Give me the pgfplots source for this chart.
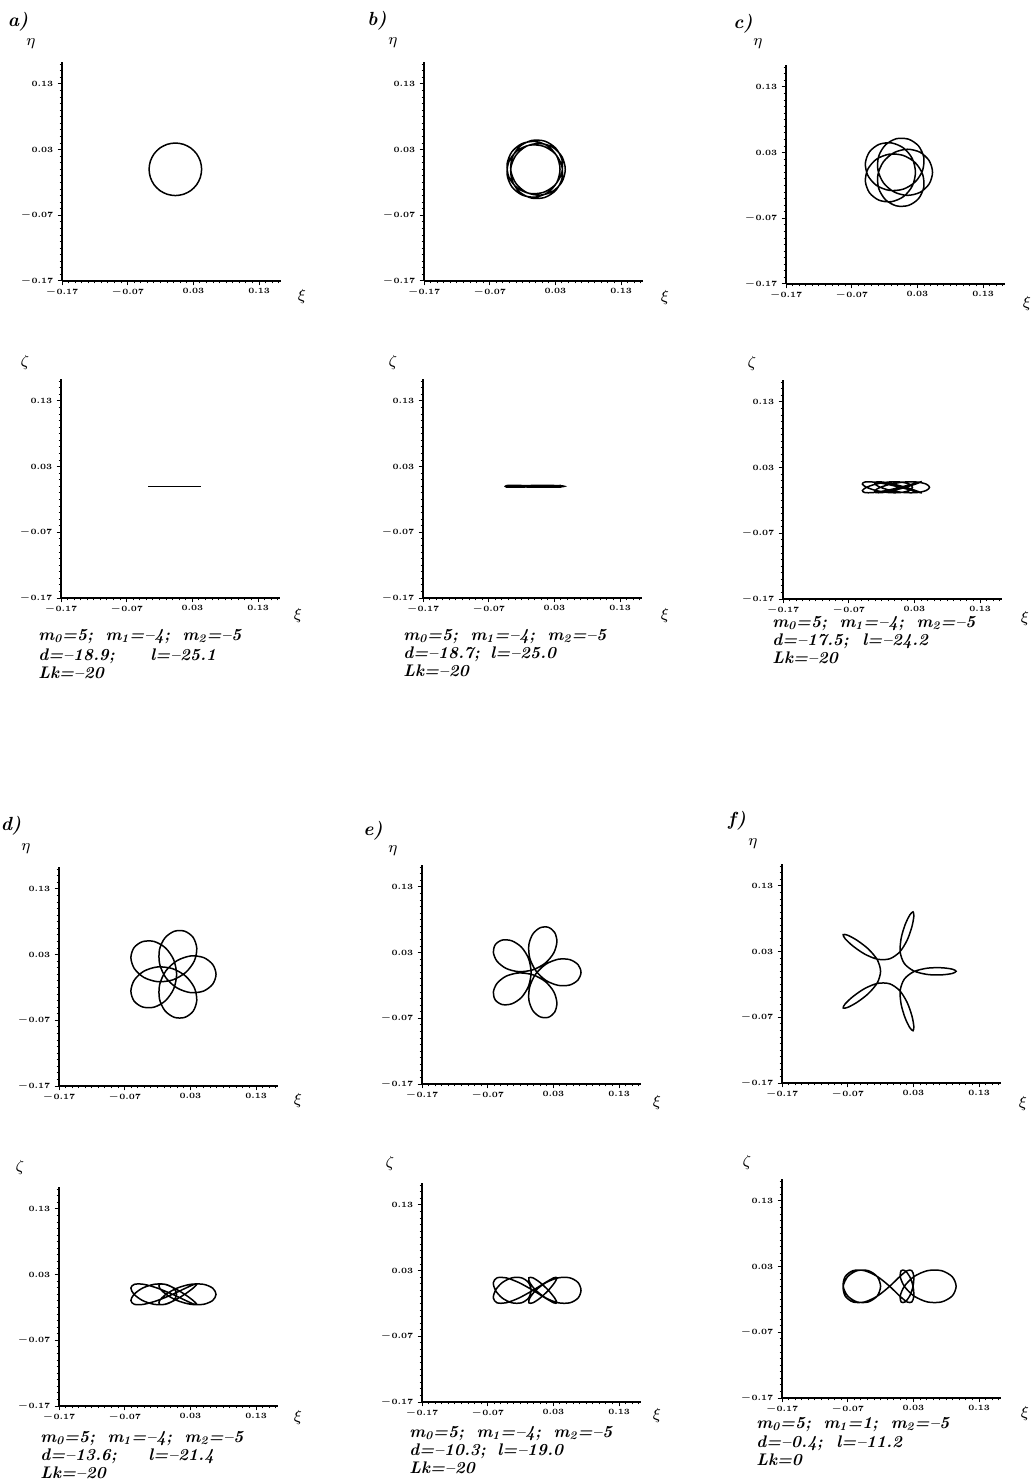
\documentclass[border=0pt]{standalone}
\usepackage{pgfplots}
\pgfplotsset{compat=1.18}
\newcommand\capfont{\fontsize{8.4}{9}\selectfont\bfseries\itshape}
\newcommand\letfont{\fontsize{9.5}{10}\selectfont\bfseries\itshape}
\newcommand\varfont{\fontsize{8.5}{9}\selectfont}
\newcommand\sep{\hspace{0.75em}}
\pgfplotsset{
  panel/.style={
    anchor=south west, scale only axis, width=109.5pt, height=109.5pt,
    xmin=-0.17, xmax=0.1633, ymin=-0.17, ymax=0.1633,
    axis lines=left, axis line style={-, line width=0.9pt},
    xtick={-0.17,-0.07,0.03,0.13}, ytick={-0.17,-0.07,0.03,0.13},
    xticklabels={$-$0.17,$-$0.07,0.03,0.13},
    yticklabels={$-$0.17,$-$0.07,0.03,0.13},
    minor xtick={-0.16,-0.15,...,0.161}, minor ytick={-0.16,-0.15,...,0.161},
    tick align=outside, major tick length=2.2pt, minor tick length=1.2pt,
    tick style={black, line width=0.5pt},
    ticklabel style={font=\fontsize{4}{4.5}\selectfont\bfseries, inner sep=1pt},
    yticklabel style={xshift=-1pt},
    clip=false,
  },
  curve/.style={black, line width=0.75pt, smooth cycle, no markers},
}
\begin{document}
\begin{tikzpicture}
\path[use as bounding box] (0pt,0pt) rectangle (515pt,-740.5pt);

% ---------------- a) top view
\begin{axis}[panel, at={(31pt,-140.5pt)}]
\addplot[curve] coordinates {(0.0425,0) (0.0405,0.0124) (0.0349,0.0235) (0.026,0.0324) (0.0149,0.038) (0.0025,0.04) (-0.0099,0.038) (-0.021,0.0324) (-0.0299,0.0235) (-0.0355,0.0124) (-0.0375,0) (-0.0355,-0.0124) (-0.0299,-0.0235) (-0.021,-0.0324) (-0.0099,-0.038) (0.0025,-0.04) (0.0149,-0.038) (0.026,-0.0324) (0.0349,-0.0235) (0.0405,-0.0124)};
\end{axis}
% ---------------- a) side view
\begin{axis}[panel, at={(30.5pt,-299pt)}]
\addplot[black, line width=0.75pt, no markers] coordinates {(-0.0375,0) (0.0425,0)};
\end{axis}

% ---------------- b) top view
\begin{axis}[panel, at={(212pt,-140.5pt)}]
\addplot[curve] coordinates {(0.0450,0) (0.0399,-0.0193) (0.0258,-0.0336) (0.0063,-0.0394) (-0.0140,-0.0352) (-0.0299,-0.0217) (-0.0378,-0.0024) (-0.0356,0.0182) (-0.0240,0.0350) (-0.0060,0.0439) (0.0139,0.0428) (0.0306,0.0320) (0.0400,0.0142) (0.0395,-0.0062) (0.0291,-0.0241) (0.0114,-0.0352) (-0.0094,-0.0367) (-0.0283,-0.0282) (-0.0407,-0.0120) (-0.0436,0.0079) (-0.0364,0.0265) (-0.0210,0.0390) (-0.0011,0.0424) (0.0181,0.0356) (0.0320,0.0203) (0.0370,0) (0.0320,-0.0203) (0.0181,-0.0356) (-0.0011,-0.0424) (-0.0210,-0.0390) (-0.0364,-0.0265) (-0.0436,-0.0079) (-0.0407,0.0120) (-0.0283,0.0282) (-0.0094,0.0367) (0.0114,0.0352) (0.0291,0.0241) (0.0395,0.0062) (0.0400,-0.0142) (0.0306,-0.0320) (0.0139,-0.0428) (-0.0060,-0.0439) (-0.0240,-0.0350) (-0.0356,-0.0182) (-0.0378,0.0024) (-0.0299,0.0217) (-0.0140,0.0352) (0.0063,0.0394) (0.0258,0.0336) (0.0399,0.0193)};
\end{axis}
% ---------------- b) side view
\begin{axis}[panel, at={(211.5pt,-299pt)}]
\addplot[curve] coordinates {(0.0450,0) (0.0399,0.0008) (0.0258,0.0013) (0.0063,0.0013) (-0.0140,0.0008) (-0.0299,0) (-0.0378,-0.0008) (-0.0356,-0.0013) (-0.0240,-0.0013) (-0.0060,-0.0008) (0.0139,0) (0.0306,0.0008) (0.0400,0.0013) (0.0395,0.0013) (0.0291,0.0008) (0.0114,0) (-0.0094,-0.0008) (-0.0283,-0.0013) (-0.0407,-0.0013) (-0.0436,-0.0008) (-0.0364,0) (-0.0210,0.0008) (-0.0011,0.0013) (0.0181,0.0013) (0.0320,0.0008) (0.0370,0) (0.0320,-0.0008) (0.0181,-0.0013) (-0.0011,-0.0013) (-0.0210,-0.0008) (-0.0364,0) (-0.0436,0.0008) (-0.0407,0.0013) (-0.0283,0.0013) (-0.0094,0.0008) (0.0114,0) (0.0291,-0.0008) (0.0395,-0.0013) (0.0400,-0.0013) (0.0306,-0.0008) (0.0139,0) (-0.0060,0.0008) (-0.0240,0.0013) (-0.0356,0.0013) (-0.0378,0.0008) (-0.0299,0) (-0.0140,-0.0008) (0.0063,-0.0013) (0.0258,-0.0013) (0.0399,-0.0008)};
\end{axis}

% ---------------- c) top view
\begin{axis}[panel, at={(393pt,-142pt)}]
\addplot[curve] coordinates {(0.0530,0) (0.0479,-0.0176) (0.0340,-0.0305) (0.0146,-0.0351) (-0.0056,-0.0299) (-0.0218,-0.0159) (-0.0302,0.0039) (-0.0289,0.0247) (-0.0185,0.0418) (-0.0020,0.0511) (0.0164,0.0504) (0.0316,0.0402) (0.0396,0.0229) (0.0379,0.0030) (0.0267,-0.0146) (0.0083,-0.0257) (-0.0130,-0.0275) (-0.0325,-0.0198) (-0.0455,-0.0047) (-0.0492,0.0139) (-0.0429,0.0312) (-0.0284,0.0425) (-0.0096,0.0447) (0.0088,0.0370) (0.0222,0.0209) (0.0270,0) (0.0222,-0.0209) (0.0088,-0.0370) (-0.0096,-0.0447) (-0.0284,-0.0425) (-0.0429,-0.0312) (-0.0492,-0.0139) (-0.0455,0.0047) (-0.0325,0.0198) (-0.0130,0.0275) (0.0083,0.0257) (0.0267,0.0146) (0.0379,-0.0030) (0.0396,-0.0229) (0.0316,-0.0402) (0.0164,-0.0504) (-0.0020,-0.0511) (-0.0185,-0.0418) (-0.0289,-0.0247) (-0.0302,-0.0039) (-0.0218,0.0159) (-0.0056,0.0299) (0.0146,0.0351) (0.0340,0.0305) (0.0479,0.0176)};
\end{axis}
% ---------------- c) side view
\begin{axis}[panel, at={(391.5pt,-299.5pt)}]
\addplot[curve] coordinates {(0.0530,0) (0.0479,0.0049) (0.0340,0.0080) (0.0146,0.0080) (-0.0056,0.0049) (-0.0218,0) (-0.0302,-0.0049) (-0.0289,-0.0080) (-0.0185,-0.0080) (-0.0020,-0.0049) (0.0164,0) (0.0316,0.0049) (0.0396,0.0080) (0.0379,0.0080) (0.0267,0.0049) (0.0083,0) (-0.0130,-0.0049) (-0.0325,-0.0080) (-0.0455,-0.0080) (-0.0492,-0.0049) (-0.0429,0) (-0.0284,0.0049) (-0.0096,0.0080) (0.0088,0.0080) (0.0222,0.0049) (0.0270,0) (0.0222,-0.0049) (0.0088,-0.0080) (-0.0096,-0.0080) (-0.0284,-0.0049) (-0.0429,0) (-0.0492,0.0049) (-0.0455,0.0080) (-0.0325,0.0080) (-0.0130,0.0049) (0.0083,0) (0.0267,-0.0049) (0.0379,-0.0080) (0.0396,-0.0080) (0.0316,-0.0049) (0.0164,0) (-0.0020,0.0049) (-0.0185,0.0080) (-0.0289,0.0080) (-0.0302,0.0049) (-0.0218,0) (-0.0056,-0.0049) (0.0146,-0.0080) (0.0340,-0.0080) (0.0479,-0.0049)};
\end{axis}

% ---------------- d) top view
\begin{axis}[panel, at={(29.5pt,-543pt)}]
\addplot[curve] coordinates {(0.0690,0) (0.0639,-0.0150) (0.0500,-0.0255) (0.0303,-0.0279) (0.0097,-0.0208) (-0.0073,-0.0053) (-0.0168,0.0156) (-0.0171,0.0375) (-0.0088,0.0554) (0.0055,0.0655) (0.0213,0.0656) (0.0341,0.0562) (0.0397,0.0396) (0.0359,0.0202) (0.0228,0.0028) (0.0028,-0.0086) (-0.0201,-0.0112) (-0.0409,-0.0047) (-0.0554,0.0088) (-0.0606,0.0254) (-0.0558,0.0406) (-0.0429,0.0497) (-0.0254,0.0500) (-0.0082,0.0404) (0.0044,0.0225) (0.0090,0) (0.0044,-0.0225) (-0.0082,-0.0404) (-0.0254,-0.0500) (-0.0429,-0.0497) (-0.0558,-0.0406) (-0.0606,-0.0254) (-0.0554,-0.0088) (-0.0409,0.0047) (-0.0201,0.0112) (0.0028,0.0086) (0.0228,-0.0028) (0.0359,-0.0202) (0.0397,-0.0396) (0.0341,-0.0562) (0.0213,-0.0656) (0.0055,-0.0655) (-0.0088,-0.0554) (-0.0171,-0.0375) (-0.0168,-0.0156) (-0.0073,0.0053) (0.0097,0.0208) (0.0303,0.0279) (0.0500,0.0255) (0.0639,0.0150)};
\end{axis}
% ---------------- d) side view
\begin{axis}[panel, at={(29.5pt,-703pt)}]
\addplot[curve] coordinates {(0.0690,0) (0.0639,0.0094) (0.0500,0.0152) (0.0303,0.0152) (0.0097,0.0094) (-0.0073,0) (-0.0168,-0.0094) (-0.0171,-0.0152) (-0.0088,-0.0152) (0.0055,-0.0094) (0.0213,0) (0.0341,0.0094) (0.0397,0.0152) (0.0359,0.0152) (0.0228,0.0094) (0.0028,0) (-0.0201,-0.0094) (-0.0409,-0.0152) (-0.0554,-0.0152) (-0.0606,-0.0094) (-0.0558,0) (-0.0429,0.0094) (-0.0254,0.0152) (-0.0082,0.0152) (0.0044,0.0094) (0.0090,0) (0.0044,-0.0094) (-0.0082,-0.0152) (-0.0254,-0.0152) (-0.0429,-0.0094) (-0.0558,0) (-0.0606,0.0094) (-0.0554,0.0152) (-0.0409,0.0152) (-0.0201,0.0094) (0.0028,0) (0.0228,-0.0094) (0.0359,-0.0152) (0.0397,-0.0152) (0.0341,-0.0094) (0.0213,0) (0.0055,0.0094) (-0.0088,0.0152) (-0.0171,0.0152) (-0.0168,0.0094) (-0.0073,0) (0.0097,-0.0094) (0.0303,-0.0152) (0.0500,-0.0152) (0.0639,-0.0094)};
\end{axis}

% ---------------- e) top view
\begin{axis}[panel, at={(211pt,-542pt)}]
\addplot[curve] coordinates {(0.0720,0) (0.0675,-0.0116) (0.0550,-0.0193) (0.0375,-0.0199) (0.0188,-0.0125) (0.0032,0.0024) (-0.0060,0.0218) (-0.0074,0.0418) (-0.0013,0.0583) (0.0098,0.0678) (0.0223,0.0685) (0.0319,0.0606) (0.0353,0.0464) (0.0305,0.0295) (0.0177,0.0141) (-0.0012,0.0038) (-0.0226,0.0010) (-0.0420,0.0059) (-0.0558,0.0168) (-0.0614,0.0303) (-0.0583,0.0423) (-0.0478,0.0491) (-0.0332,0.0479) (-0.0186,0.0382) (-0.0079,0.0211) (-0.0040,0) (-0.0079,-0.0211) (-0.0186,-0.0382) (-0.0332,-0.0479) (-0.0478,-0.0491) (-0.0583,-0.0423) (-0.0614,-0.0303) (-0.0558,-0.0168) (-0.0420,-0.0059) (-0.0226,-0.0010) (-0.0012,-0.0038) (0.0177,-0.0141) (0.0305,-0.0295) (0.0353,-0.0464) (0.0319,-0.0606) (0.0223,-0.0685) (0.0098,-0.0678) (-0.0013,-0.0583) (-0.0074,-0.0418) (-0.0060,-0.0218) (0.0032,-0.0024) (0.0188,0.0125) (0.0375,0.0199) (0.0550,0.0193) (0.0675,0.0116)};
\end{axis}
% ---------------- e) side view
\begin{axis}[panel, at={(211pt,-701pt)}]
\addplot[curve] coordinates {(0.0720,0) (0.0675,0.0118) (0.0550,0.0190) (0.0375,0.0190) (0.0188,0.0118) (0.0032,0) (-0.0060,-0.0118) (-0.0074,-0.0190) (-0.0013,-0.0190) (0.0098,-0.0118) (0.0223,0) (0.0319,0.0118) (0.0353,0.0190) (0.0305,0.0190) (0.0177,0.0118) (-0.0012,0) (-0.0226,-0.0118) (-0.0420,-0.0190) (-0.0558,-0.0190) (-0.0614,-0.0118) (-0.0583,0) (-0.0478,0.0118) (-0.0332,0.0190) (-0.0186,0.0190) (-0.0079,0.0118) (-0.0040,0) (-0.0079,-0.0118) (-0.0186,-0.0190) (-0.0332,-0.0190) (-0.0478,-0.0118) (-0.0583,0) (-0.0614,0.0118) (-0.0558,0.0190) (-0.0420,0.0190) (-0.0226,0.0118) (-0.0012,0) (0.0177,-0.0118) (0.0305,-0.0190) (0.0353,-0.0190) (0.0319,-0.0118) (0.0223,0) (0.0098,0.0118) (-0.0013,0.0190) (-0.0074,0.0190) (-0.0060,0.0118) (0.0032,0) (0.0188,-0.0118) (0.0375,-0.0190) (0.0550,-0.0190) (0.0675,-0.0118)};
\end{axis}

% ---------------- f) top view
\begin{axis}[panel, at={(391pt,-541.5pt)}]
\addplot[curve] coordinates {(0.0950,0) (0.0890,-0.0033) (0.0727,-0.0054) (0.0513,-0.0048) (0.0307,0.0005) (0.0162,0.0118) (0.0099,0.0291) (0.0113,0.0502) (0.0173,0.0708) (0.0244,0.0856) (0.0294,0.0904) (0.0306,0.0836) (0.0276,0.0675) (0.0204,0.0473) (0.0091,0.0294) (-0.0062,0.0190) (-0.0246,0.0184) (-0.0443,0.0263) (-0.0620,0.0384) (-0.0739,0.0496) (-0.0769,0.0558) (-0.0700,0.0549) (-0.0557,0.0471) (-0.0387,0.0340) (-0.0251,0.0177) (-0.0200,0) (-0.0251,-0.0177) (-0.0387,-0.0340) (-0.0557,-0.0471) (-0.0700,-0.0549) (-0.0769,-0.0558) (-0.0739,-0.0496) (-0.0620,-0.0384) (-0.0443,-0.0263) (-0.0246,-0.0184) (-0.0062,-0.0190) (0.0091,-0.0294) (0.0204,-0.0473) (0.0276,-0.0675) (0.0306,-0.0836) (0.0294,-0.0904) (0.0244,-0.0856) (0.0173,-0.0708) (0.0113,-0.0502) (0.0099,-0.0291) (0.0162,-0.0118) (0.0307,-0.0005) (0.0513,0.0048) (0.0727,0.0054) (0.0890,0.0033)};
\end{axis}
% ---------------- f) side view
\begin{axis}[panel, at={(391pt,-699pt)}]
\addplot[curve] coordinates {(0.0950,0) (0.0890,0.0147) (0.0727,0.0238) (0.0513,0.0238) (0.0307,0.0147) (0.0162,0) (0.0099,-0.0147) (0.0113,-0.0238) (0.0173,-0.0238) (0.0244,-0.0147) (0.0294,0) (0.0306,0.0147) (0.0276,0.0238) (0.0204,0.0238) (0.0091,0.0147) (-0.0062,0) (-0.0246,-0.0147) (-0.0443,-0.0238) (-0.0620,-0.0238) (-0.0739,-0.0147) (-0.0769,0) (-0.0700,0.0147) (-0.0557,0.0238) (-0.0387,0.0238) (-0.0251,0.0147) (-0.0200,0) (-0.0251,-0.0147) (-0.0387,-0.0238) (-0.0557,-0.0238) (-0.0700,-0.0147) (-0.0769,0) (-0.0739,0.0147) (-0.0620,0.0238) (-0.0443,0.0238) (-0.0246,0.0147) (-0.0062,0) (0.0091,-0.0147) (0.0204,-0.0238) (0.0276,-0.0238) (0.0306,-0.0147) (0.0294,0) (0.0244,0.0147) (0.0173,0.0238) (0.0113,0.0238) (0.0099,0.0147) (0.0162,0) (0.0307,-0.0147) (0.0513,-0.0238) (0.0727,-0.0238) (0.0890,-0.0147)};
\end{axis}

% ---------------- panel letters, axis names and captions (pixel grid)
\begin{scope}[x=0.5pt, y=-0.5pt]
\node[font=\letfont] at (18,22) {a)};
\node[font=\letfont] at (377,21) {b)};
\node[font=\letfont] at (743,24) {c)};
\node[font=\letfont] at (11,826) {d)};
\node[font=\letfont] at (373,831) {e)};
\node[font=\letfont] at (737,821) {f)};

\foreach \p in {(31,44),(393,43),(758,44),(26,849),(393,851),(753,844)}
  \node[font=\varfont] at \p {$\eta$};
\foreach \p in {(25,362),(393,362),(752,363),(20,1167),(390,1163),(747,1162)}
  \node[font=\varfont] at \p {$\zeta$};
\foreach \p in {(302,297),(665,298),(1027,303),(298,615),(665,615),(1025,618),(298,1100),(657,1102),(1023,1103),(298,1417),(657,1415),(1025,1413)}
  \node[font=\varfont] at \p {$\xi$};

\begin{scope}[every node/.style={font=\capfont, anchor=base west, inner sep=0pt}]
\node at (38,640) {m\textsubscript{0}=5;\sep m\textsubscript{1}=--4;\sep m\textsubscript{2}=--5};
\node at (38,660) {d=--18.9;}; \node at (150,660) {l=--25.1};
\node at (38,678) {Lk=--20};

\node at (403,640) {m\textsubscript{0}=5;\sep m\textsubscript{1}=--4;\sep m\textsubscript{2}=--5};
\node at (403,658) {d=--18.7;}; \node at (490,658) {l=--25.0};
\node at (403,676) {Lk=--20};

\node at (772,627) {m\textsubscript{0}=5;\sep m\textsubscript{1}=--4;\sep m\textsubscript{2}=--5};
\node at (772,645) {d=--17.5;}; \node at (862,645) {l=--24.2};
\node at (772,663) {Lk=--20};

\node at (40,1442) {m\textsubscript{0}=5;\sep m\textsubscript{1}=--4;\sep m\textsubscript{2}=--5};
\node at (40,1460) {d=--13.6;}; \node at (148,1460) {l=--21.4};
\node at (40,1478) {Lk=--20};

\node at (409,1437) {m\textsubscript{0}=5;\sep m\textsubscript{1}=--4;\sep m\textsubscript{2}=--5};
\node at (409,1455) {d=--10.3;}; \node at (497,1455) {l=--19.0};
\node at (409,1473) {Lk=--20};

\node at (756,1428) {m\textsubscript{0}=5;\sep m\textsubscript{1}=1;\sep m\textsubscript{2}=--5};
\node at (756,1447) {d=--0.4;}; \node at (836,1447) {l=--11.2};
\node at (756,1465) {Lk=0};
\end{scope}
\end{scope}
\end{tikzpicture}
\end{document}
